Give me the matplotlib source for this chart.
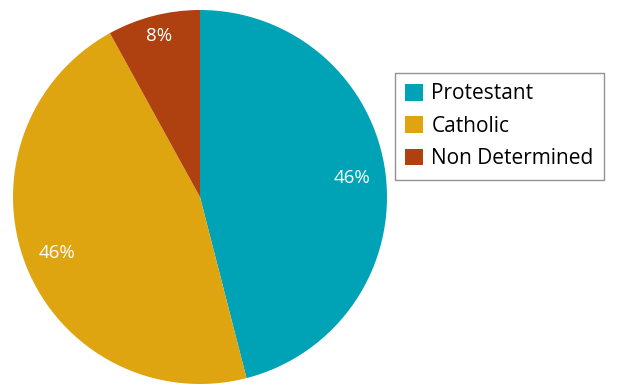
import numpy as np
import matplotlib.pyplot as plt
from matplotlib.patches import Patch

labels = ["Protestant", "Catholic", "Non Determined"]
shares = [46, 46, 8]
colors = ["#00A3B5", "#DFA510", "#AE410F"]
label_dist = [0.82, 0.82, 0.89]

plt.rcParams['font.family'] = ['Open Sans', 'DejaVu Sans']

fig = plt.figure(figsize=(6.18, 3.85), dpi=100)
ax = fig.add_axes([13 / 618, 1 / 385, 374 / 618, 374 / 385])

wedges, _ = ax.pie(shares, colors=colors, startangle=90, counterclock=False,
                   radius=1, wedgeprops=dict(linewidth=0))
ax.set_xlim(-1, 1)
ax.set_ylim(-1, 1)
ax.set_aspect('equal')

for w, v, d in zip(wedges, shares, label_dist):
    mid = np.deg2rad((w.theta1 + w.theta2) / 2)
    ax.text(d * np.cos(mid), d * np.sin(mid), f"{v}%", color="white",
            fontsize=13.5, ha="center", va="center")

handles = [Patch(facecolor=c, edgecolor="none") for c in colors]
leg = fig.legend(handles, labels, loc="upper left",
                 bbox_to_anchor=(395 / 618, 1 - 73 / 385),
                 fontsize=15, frameon=True, fancybox=False,
                 handlelength=0.85, handleheight=0.85, handletextpad=0.4,
                 labelspacing=0.55, borderpad=0.5, borderaxespad=0)
leg.get_frame().set_edgecolor("#777777")
leg.get_frame().set_linewidth(1.0)

fig.savefig("out.png", dpi=100)
